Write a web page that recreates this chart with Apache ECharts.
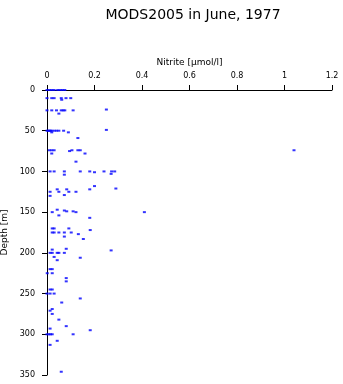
<!DOCTYPE html>
<html>
<head>
<meta charset="utf-8">
<script src="https://cdn.jsdelivr.net/npm/echarts@6/dist/echarts.min.js"></script>
<style>
  html, body { margin: 0; padding: 0; background: #fff; }
  #chart { width: 343px; height: 384px; }
</style>
</head>
<body>
<div id="chart"></div>
<script>
// Nitrite profile samples: sampling depth (m) and nitrite concentration (µmol/l)
const depth = [
  0, 0, 0, 0, 0, 0, 0, 0,
  10, 10, 10, 10, 12, 10, 10,
  25, 25, 25, 25, 25, 25, 25, 24, 29,
  50, 50, 50, 50, 50, 50, 50, 50, 50, 52, 49, 52,
  59,
  74, 74, 74, 78, 75, 74, 74, 74, 78, 74,
  88,
  100, 100, 100, 100, 100, 101, 100, 100, 100, 104, 103,
  118,
  125, 122, 125, 129, 122, 125, 125, 122, 121,
  130,
  150, 147, 154, 148, 149, 149, 150, 150,
  157,
  170, 170, 175, 175, 175, 175, 170, 175, 177, 172, 180, 183,
  196, 195, 197, 200, 200, 200, 200, 200, 206, 205, 209,
  220, 220, 225, 225,
  231, 235,
  245, 245,
  250, 250, 250,
  256, 261, 269, 271, 275, 282, 290, 293, 295,
  300, 300, 300, 300, 300,
  308, 313, 346
];

const nitrite = [
  0, 0.01, 0.02, 0.03, 0.045, 0.055, 0.065, 0.075,
  0, 0.02, 0.03, 0.06, 0.062, 0.08, 0.10,
  0, 0.02, 0.04, 0.06, 0.068, 0.075, 0.11, 0.25, 0.05,
  0, 0.005, 0.01, 0.015, 0.02, 0.03, 0.04, 0.05, 0.07, 0.09, 0.25, 0.02,
  0.13,
  0.01, 0.02, 0.03, 0.02, 0.095, 0.105, 0.13, 0.14, 0.16, 1.04,
  0.122,
  0.013, 0.03, 0.073, 0.14, 0.18, 0.20, 0.24, 0.272, 0.285, 0.073, 0.27,
  0.20,
  0.013, 0.043, 0.05, 0.073, 0.083, 0.092, 0.122, 0.18, 0.29,
  0.013,
  0.022, 0.043, 0.05, 0.073, 0.083, 0.11, 0.122, 0.41,
  0.18,
  0.022, 0.03, 0.022, 0.03, 0.05, 0.073, 0.092, 0.102, 0.132, 0.182, 0.073, 0.153,
  0.022, 0.081, 0.27, 0.013, 0.022, 0.043, 0.05, 0.073, 0.14, 0.03, 0.043,
  0.013, 0.022, 0.001, 0.022,
  0.081, 0.081,
  0.013, 0.022,
  0, 0.013, 0.03,
  0.14, 0.062, 0.022, 0.013, 0.022, 0.05, 0.081, 0.013, 0.182,
  0, 0.008, 0.015, 0.022, 0.11,
  0.043, 0.013, 0.06
];

const nitriteTicks = { min: 0, max: 1.2, step: 0.2 };
const depthTicks = { min: 0, max: 350, step: 50 };

const points = nitrite.map((v, i) => [v, depth[i]]);

const chart = echarts.init(document.getElementById('chart'), null, { renderer: 'canvas' });

const labelFont = 'DejaVu Sans';

chart.setOption({
  animation: false,
  backgroundColor: '#ffffff',
  title: {
    text: 'MODS2005 in June, 1977',
    left: 188,
    textAlign: 'center',
    top: 3,
    textStyle: { fontFamily: labelFont, fontSize: 14, fontWeight: 'normal', color: '#000' }
  },
  grid: { left: 47, right: 11, top: 90, bottom: 9, containLabel: false, outerBoundsMode: 'none' },
  xAxis: {
    type: 'value',
    position: 'top',
    min: nitriteTicks.min,
    max: nitriteTicks.max,
    interval: nitriteTicks.step,
    name: 'Nitrite [\u00b5mol/l]',
    nameLocation: 'middle',
    nameGap: 22,
    nameTextStyle: { fontFamily: labelFont, fontSize: 9, color: '#000' },
    axisLine: { show: true, onZero: false, lineStyle: { color: '#000', width: 1 } },
    axisTick: { show: true, length: 5, lineStyle: { color: '#000' } },
    axisLabel: { fontFamily: labelFont, fontSize: 8, color: '#000', margin: 10 },
    splitLine: { show: false }
  },
  yAxis: {
    type: 'value',
    inverse: true,
    min: depthTicks.min,
    max: depthTicks.max,
    interval: depthTicks.step,
    name: 'Depth [m]',
    nameLocation: 'middle',
    nameRotate: 90,
    nameGap: 37,
    nameTextStyle: { fontFamily: labelFont, fontSize: 9, color: '#000' },
    axisLine: { show: true, onZero: false, lineStyle: { color: '#000', width: 1 } },
    axisTick: { show: true, length: 5, lineStyle: { color: '#000' } },
    axisLabel: { fontFamily: labelFont, fontSize: 8, color: '#000', margin: 12 },
    splitLine: { show: false }
  },
  series: [{
    type: 'scatter',
    data: points,
    symbol: 'rect',
    symbolSize: [3, 2],
    itemStyle: { color: '#0000ff' },
    clip: false
  }]
});
</script>
</body>
</html>
